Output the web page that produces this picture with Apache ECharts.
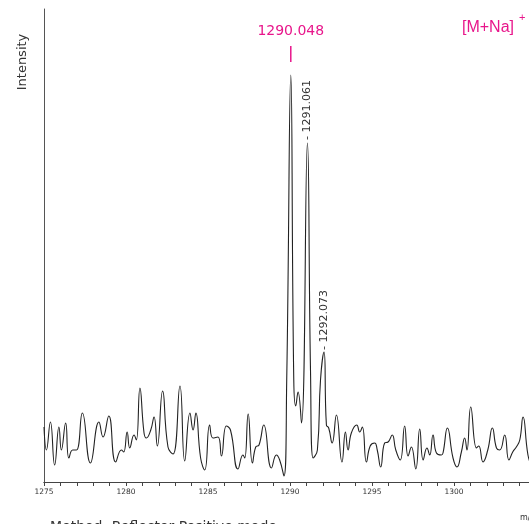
<!DOCTYPE html>
<html lang="en">
<head>
<meta charset="UTF-8">
<title>[M+Na]+ spectrum</title>
<style>
    html,body{margin:0;padding:0;background:#fff;}
    #main{width:529px;height:524px;}
</style>
<script src="https://cdn.jsdelivr.net/npm/echarts@6/dist/echarts.min.js"></script>
</head>
<body>
<div id="main"></div>
<script>
// m/z values (peaks and valleys)
var mz = [
    1275.0, 1275.15, 1275.39, 1275.65, 1275.91, 1276.06, 1276.32, 1276.52, 1276.75, 1276.98,
    1277.34, 1277.83, 1278.35, 1278.60, 1278.95, 1279.37, 1279.72, 1279.86, 1280.07, 1280.23,
    1280.49, 1280.63, 1280.85, 1281.10, 1281.24, 1281.51, 1281.71, 1281.91, 1282.23, 1282.56,
    1282.87, 1283.29, 1283.58, 1283.90, 1284.09, 1284.26, 1284.55, 1284.80, 1285.10, 1285.30,
    1285.61, 1285.82, 1286.12, 1286.37, 1286.83, 1287.13, 1287.24, 1287.45, 1287.71, 1287.91,
    1288.11, 1288.40, 1288.87, 1289.17, 1289.37, 1289.63, 1289.80, 1290.048, 1290.23, 1290.35,
    1290.49, 1290.70, 1291.061, 1291.25, 1291.41, 1291.67, 1291.86, 1292.073, 1292.22, 1292.36,
    1292.57, 1292.83, 1293.17, 1293.38, 1293.54, 1293.74, 1294.07, 1294.25, 1294.41, 1294.66,
    1294.89, 1295.16, 1295.32, 1295.53, 1295.77, 1295.98, 1296.23, 1296.45, 1296.72, 1296.99,
    1297.20, 1297.40, 1297.67, 1297.91, 1298.12, 1298.35, 1298.52, 1298.72, 1298.93, 1299.23,
    1299.33, 1299.60, 1299.94, 1300.18, 1300.45, 1300.65, 1300.79, 1301.02, 1301.37, 1301.51,
    1301.77, 1302.06, 1302.34, 1302.59, 1302.79, 1303.09, 1303.35, 1303.58, 1303.80, 1304.01,
    1304.21, 1304.51, 1304.75
];
var intensity = [
    55, 32, 60, 17, 55, 32, 59, 24, 32, 32,
    69, 19, 60, 45, 66, 20, 32, 30, 50, 34,
    47, 42, 94, 49, 44, 52, 65, 36, 91, 35,
    28, 96, 21, 69, 52, 69, 24, 12, 57, 44,
    45, 26, 56, 52, 13, 27, 24, 68, 19, 35,
    37, 57, 14, 27, 22, 6, 102, 407, 102, 76,
    90, 59, 339, 112, 24, 32, 102, 130, 57, 54,
    39, 67, 20, 50, 32, 49, 57, 50, 55, 20,
    36, 39, 32, 15, 39, 40, 47, 32, 22, 56,
    26, 35, 13, 53, 22, 34, 27, 47, 29, 27,
    29, 54, 24, 15, 30, 44, 32, 75, 34, 36,
    20, 32, 54, 34, 32, 47, 22, 30, 35, 42,
    65, 27, 15
];
var xTicks = [1275, 1280, 1285, 1290, 1295, 1300];
var peakMz = [1290.048, 1291.061, 1292.073];
var peakText = ['1290.048', '- 1291.061', '- 1292.073'];

var pink = '#e8168b';
var chart = echarts.init(document.getElementById('main'));

var points = mz.map(function (m, i) { return [m, intensity[i]]; });

chart.setOption({
    animation: false,
    // plot runs past the right edge of the picture (1305 sits off-canvas)
    grid: {left: 44, top: 9, width: 492, height: 473, outerBoundsMode: 'none', containLabel: false},
    xAxis: [{
        type: 'value', min: 1275, max: 1305, interval: 5,
        axisLine: {show: true, onZero: false, lineStyle: {color: '#444', width: 1}},
        axisTick: {show: true, length: 4, lineStyle: {color: '#444'}},
        minorTick: {show: true, splitNumber: 5, length: 4, lineStyle: {color: '#444'}},
        splitLine: {show: false},
        axisLabel: {
            margin: 6, fontSize: 7.5, color: '#333', fontFamily: 'DejaVu Sans',
            formatter: function (v) { return xTicks.indexOf(v) >= 0 ? String(v) : ''; }
        }
    }, {
        type: 'value', position: 'top', min: 1275, max: 1305,
        axisLine: {show: true, lineStyle: {color: '#444', width: 1}},
        axisTick: {show: false}, axisLabel: {show: false}, splitLine: {show: false}
    }],
    yAxis: {
        type: 'value', min: 0, max: 473,
        axisLine: {show: true, lineStyle: {color: '#555', width: 1}},
        axisTick: {show: false}, axisLabel: {show: false}, splitLine: {show: false}
    },
    series: [{
        type: 'line',
        data: points,
        showSymbol: false,
        smooth: 0.5,
        lineStyle: {color: '#222', width: 1.1}
    }]
});

// annotations placed through the chart's own coordinate system
function apex(i) {
    var k = mz.indexOf(peakMz[i]);
    return chart.convertToPixel({gridIndex: 0}, [peakMz[i], intensity[k]]);
}
var p0 = apex(0), p1 = apex(1), p2 = apex(2);

chart.setOption({
    graphic: [
        {type: 'text', x: 23, y: 62, rotation: Math.PI / 2,
            style: {text: 'Intensity', font: '13px "DejaVu Sans"', fill: '#333', align: 'center', verticalAlign: 'middle'}},
        {type: 'text', x: p0[0], y: p0[1] - 44,
            style: {text: peakText[0], font: '14px "DejaVu Sans"', fill: pink, align: 'center', verticalAlign: 'middle'}},
        {type: 'line', shape: {x1: p0[0], y1: p0[1] - 29, x2: p0[0], y2: p0[1] - 13},
            style: {stroke: pink, lineWidth: 1.5}},
        {type: 'text', x: p1[0], y: p1[1] - 3, rotation: Math.PI / 2,
            style: {text: peakText[1], font: '11px "DejaVu Sans"', fill: '#333', align: 'left', verticalAlign: 'middle'}},
        {type: 'text', x: p2[0], y: p2[1] - 2, rotation: Math.PI / 2,
            style: {text: peakText[2], font: '11px "DejaVu Sans"', fill: '#333', align: 'left', verticalAlign: 'middle'}},
        {type: 'text', x: 462, y: 28,
            style: {text: '[M+Na]', font: '16px "Liberation Sans"', fill: pink, align: 'left', verticalAlign: 'middle'}},
        {type: 'text', x: 519, y: 18,
            style: {text: '+', font: '11px "Liberation Sans"', fill: pink, align: 'left', verticalAlign: 'middle'}},
        {type: 'text', x: 50, y: 520,
            style: {text: 'Method: Reflector Positive mode', font: '14px "DejaVu Sans"', fill: '#333', align: 'left', verticalAlign: 'top'}},
        {type: 'text', x: 520, y: 518,
            style: {text: 'm/z', font: '8px "DejaVu Sans"', fill: '#333', align: 'left', verticalAlign: 'middle'}}
    ]
});
</script>
</body>
</html>
